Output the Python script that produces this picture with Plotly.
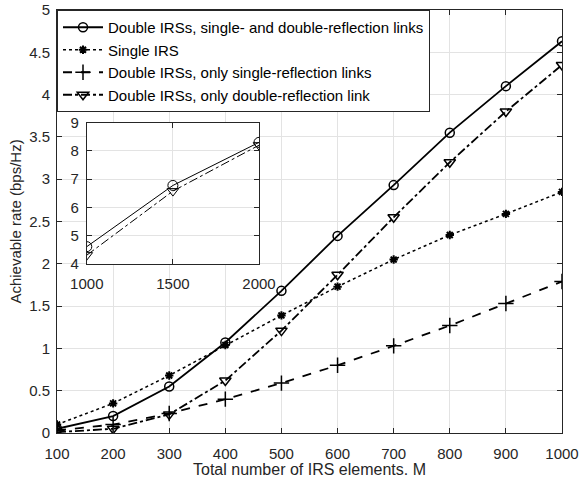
import plotly.graph_objects as go

M = [100, 200, 300, 400, 500, 600, 700, 800, 900, 1000]
both_links = [0.05, 0.20, 0.55, 1.07, 1.68, 2.33, 2.93, 3.55, 4.10, 4.63]
single_irs = [0.10, 0.35, 0.68, 1.04, 1.39, 1.73, 2.05, 2.34, 2.59, 2.85]
only_single = [0.03, 0.10, 0.23, 0.40, 0.59, 0.80, 1.03, 1.27, 1.53, 1.79]
only_double = [0.01, 0.05, 0.22, 0.62, 1.21, 1.87, 2.55, 3.20, 3.80, 4.35]

M_inset = [1000, 1500, 2000]
both_inset = [4.62, 6.78, 8.30]
double_inset = [4.32, 6.58, 8.20]

names = ["Double IRSs, single- and double-reflection links",
         "Single IRS",
         "Double IRSs, only single-reflection links",
         "Double IRSs, only double-reflection link"]
x_title = "Total number of IRS elements. M"
y_title = "Achievable rate (bps/Hz)"

FONT = "Liberation Sans, Arial, sans-serif"
AX = "#262626"
GRID = "#e3e3e3"

fig = go.Figure()
fig.add_trace(go.Scatter(x=M, y=both_links, name=names[0], mode="lines+markers",
                         line=dict(color="black", width=1.8, dash="solid"),
                         marker=dict(symbol="circle-open", size=9, color="black", line=dict(width=1.5))))
fig.add_trace(go.Scatter(x=M, y=single_irs, name=names[1], mode="lines+markers",
                         line=dict(color="black", width=1.5, dash="dot"),
                         marker=dict(symbol="asterisk-open", size=7, color="black", line=dict(width=2))))
fig.add_trace(go.Scatter(x=M, y=only_single, name=names[2], mode="lines+markers",
                         line=dict(color="black", width=1.8, dash="dash"),
                         marker=dict(symbol="cross-thin-open", size=11, color="black", line=dict(width=1.5))))
fig.add_trace(go.Scatter(x=M, y=only_double, name=names[3], mode="lines+markers",
                         line=dict(color="black", width=1.8, dash="dashdot"),
                         marker=dict(symbol="triangle-down-open", size=10, color="black", line=dict(width=1.5))))

fig.add_trace(go.Scatter(x=M_inset, y=both_inset, xaxis="x2", yaxis="y2", showlegend=False,
                         mode="lines+markers", line=dict(color="black", width=1, dash="solid"),
                         marker=dict(symbol="circle-open", size=10, color="black", line=dict(width=1))))
fig.add_trace(go.Scatter(x=M_inset, y=double_inset, xaxis="x2", yaxis="y2", showlegend=False,
                         mode="lines+markers", line=dict(color="black", width=1, dash="dashdot"),
                         marker=dict(symbol="triangle-down-open", size=10, color="black", line=dict(width=1))))

axis_common = dict(showline=True, linecolor=AX, linewidth=1, mirror="ticks", ticks="inside",
                   ticklen=5, tickcolor=AX, showgrid=True, gridcolor=GRID, gridwidth=1,
                   zeroline=False, automargin=False, tickfont=dict(family=FONT, size=15, color=AX))

fig.update_layout(
    width=581, height=477,
    margin=dict(l=57, r=19, t=10, b=44, autoexpand=False),
    paper_bgcolor="white", plot_bgcolor="white",
    font=dict(family=FONT, color=AX),
    xaxis=dict(range=[100, 1000], tickmode="array", tickvals=M, ticktext=[str(v) for v in M],
               ticklabelstandoff=7, **axis_common),
    yaxis=dict(range=[0, 5], dtick=0.5, ticklabelstandoff=3, **axis_common),
    xaxis2=dict(domain=[0.059, 0.400], anchor="y2", range=[1000, 2000], dtick=500,
                ticklabelstandoff=6, **axis_common),
    yaxis2=dict(domain=[0.399, 0.734], anchor="x2", range=[4, 9], dtick=1,
                ticklabelstandoff=4, **axis_common),
    legend=dict(x=0, y=1, xanchor="left", yanchor="top", bgcolor="white", bordercolor=AX,
                borderwidth=1, font=dict(family=FONT, size=15, color="black"), tracegroupgap=0,
                itemwidth=40),
    shapes=[dict(type="rect", xref="x2", yref="y2", x0=1000, x1=2000, y0=4, y1=9,
                 fillcolor="white", line=dict(width=0), layer="below")],
    annotations=[
        dict(text=x_title, xref="paper", yref="paper", x=0.5, y=-0.087, xanchor="center",
             yanchor="middle", showarrow=False, font=dict(family=FONT, size=16, color=AX)),
        dict(text=y_title, xref="paper", yref="paper", x=-0.083, y=0.5, xanchor="center",
             yanchor="middle", textangle=-90, showarrow=False, font=dict(family=FONT, size=15, color=AX)),
    ],
    showlegend=True,
)

fig.write_html("out.html")
